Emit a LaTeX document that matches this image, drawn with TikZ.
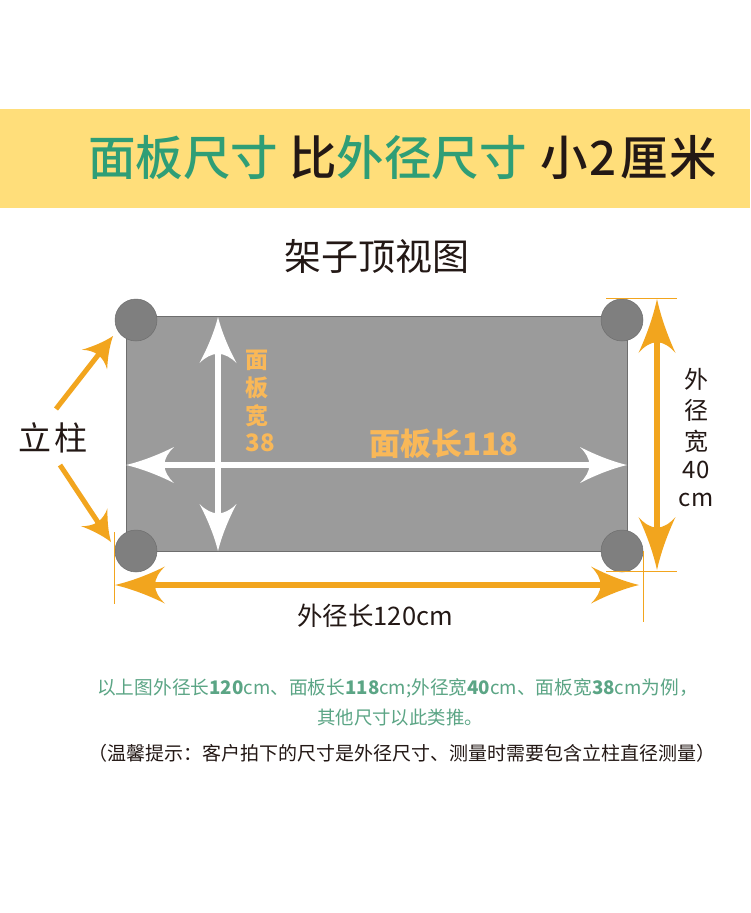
\documentclass[tikz,border=0pt]{standalone}
\usetikzlibrary{calc}
\usepackage{fontspec}
\setmainfont{Noto Sans CJK SC}
\newfontfamily\medfont{Noto Sans CJK SC Medium}
\definecolor{bandc}{HTML}{FFDE7A}
\definecolor{titleg}{HTML}{2F9E76}
\definecolor{inkc}{HTML}{231815}
\definecolor{panelc}{HTML}{9B9B9B}
\definecolor{postc}{HTML}{7F7F7F}
\definecolor{edgec}{HTML}{6E6E6E}
\definecolor{orangec}{HTML}{F2A51E}
\definecolor{labelc}{HTML}{F9B858}
\definecolor{noteg}{HTML}{5BA585}
\tikzset{
  x=1pt,y=-1pt,
  txt/.style={inner sep=0pt,outer sep=0pt,text=inkc},
  post/.style={circle,draw=edgec,line width=0.5pt,fill=postc,minimum size=42pt,inner sep=0pt},
  stemw/.style={draw=white,line width=5.5pt},
  stemo/.style={draw=orangec,line width=6pt},
  thin/.style={draw=orangec,line width=0.7pt},
  pics/chead/.style n args={3}{code={
    \fill[#3] (0,0) .. controls (-0.35*#1,0.22*#2) and (-0.7*#1,0.6*#2) .. (-#1,#2)
      .. controls (-0.88*#1,0.7*#2) and (-0.8*#1,0.35*#2) .. (-0.8*#1,0)
      .. controls (-0.8*#1,-0.35*#2) and (-0.88*#1,-0.7*#2) .. (-#1,-#2)
      .. controls (-0.7*#1,-0.6*#2) and (-0.35*#1,-0.22*#2) .. cycle;
  }}
}
\begin{document}
\begin{tikzpicture}
\useasboundingbox (0,0) rectangle (750,913);
\fill[white] (0,0) rectangle (750,913);
\fill[bandc] (0,109) rectangle (750,208);
% title
\node[txt,anchor=west] (title) at (88,158) {\fontsize{47.5}{47.5}\selectfont\medfont\textcolor{titleg}{面板尺寸}\hspace{11pt}\textcolor{inkc}{比}\textcolor{titleg}{外径尺寸}\hspace{14pt}\textcolor{inkc}{小\hspace{2pt}2\hspace{3pt}厘\hspace{2pt}米}};
\node[txt] (sub) at (377,256) {\fontsize{37}{37}\selectfont 架子顶视图};
% panel
\node[draw=edgec,line width=0.7pt,fill=panelc,minimum width=501pt,minimum height=235pt,inner sep=0pt,outer sep=0pt,anchor=north west] (panel) at (126,316) {};
\node[post] (p1) at (136,320) {};
\node[post] (p2) at (622,320) {};
\node[post] (p3) at (136,551) {};
\node[post] (p4) at (622,551) {};
% coordinates
\coordinate (wt) at (218,317);
\coordinate (wb) at (218,551);
\coordinate (wl) at (126,465);
\coordinate (wr) at (627,465);
\coordinate (ol) at (115,585);
\coordinate (or) at (639,585);
\coordinate (ot) at (657,299);
\coordinate (ob) at (657,570);
\coordinate (d1s) at (56,409);
\coordinate (d1e) at (113,336);
\coordinate (d2s) at (60,465);
\coordinate (d2e) at (111,542);
\coordinate (tl1) at (606,298);
\coordinate (tl2) at (677,298);
\coordinate (tl3) at (606,571);
\coordinate (tl4) at (677,571);
\coordinate (tl5) at (643.5,551);
\coordinate (tl6) at (643.5,622);
\coordinate (tl7) at (114.5,532);
\coordinate (tl8) at (114.5,604);
% thin guides
\draw[thin] (tl1) -- (tl2);
\draw[thin] (tl3) -- (tl4);
\draw[thin] (tl5) -- (tl6);
\draw[thin] (tl7) -- (tl8);
% white arrows
\draw[stemw] ($(wl)+(30,0)$) -- ($(wr)+(-30,0)$);
\draw[stemw] ($(wt)+(0,30)$) -- ($(wb)+(0,-30)$);
\pic[rotate=90] at (wt) {chead={46}{18.5}{white}};
\pic[rotate=-90] at (wb) {chead={47}{18.5}{white}};
\pic[rotate=180] at (wl) {chead={48}{18}{white}};
\pic at (wr) {chead={47}{18}{white}};
% orange arrows
\draw[stemo] ($(ol)+(30,0)$) -- ($(or)+(-30,0)$);
\draw[stemo] ($(ot)+(0,30)$) -- ($(ob)+(0,-30)$);
\pic[rotate=180] at (ol) {chead={50}{18.5}{orangec}};
\pic at (or) {chead={48}{18.5}{orangec}};
\pic[rotate=90] at (ot) {chead={54}{18.5}{orangec}};
\pic[rotate=-90] at (ob) {chead={53}{18.5}{orangec}};
\draw[draw=orangec,line width=5pt] (d1s) -- ($(d1s)!0.8!(d1e)$);
\draw[draw=orangec,line width=5pt] (d2s) -- ($(d2s)!0.8!(d2e)$);
\pic[rotate=52] at (d1e) {chead={30}{16}{orangec}};
\pic[rotate=-56] at (d2e) {chead={30}{16}{orangec}};
% labels
\node[txt] (lz) at (53,438) {\fontsize{33}{33}\selectfont 立\hspace{3pt}柱};
\node[txt,text=labelc] (l1) at (257,360) {\fontsize{23}{23}\selectfont\bfseries 面};
\node[txt,text=labelc] (l2) at (257,388) {\fontsize{23}{23}\selectfont\bfseries 板};
\node[txt,text=labelc] (l3) at (257,416) {\fontsize{23}{23}\selectfont\bfseries 宽};
\node[txt,text=labelc] (l4) at (260,443) {\fontsize{24}{24}\selectfont\bfseries 38};
\node[txt,text=labelc] (l5) at (444,444) {\fontsize{31}{31}\selectfont\bfseries 面板长118};
\node[txt] (r1) at (696,379) {\fontsize{24}{24}\selectfont 外};
\node[txt] (r2) at (696,410) {\fontsize{24}{24}\selectfont 径};
\node[txt] (r3) at (696,441) {\fontsize{24}{24}\selectfont 宽};
\node[txt] (r4) at (696,470) {\fontsize{24}{24}\selectfont 40};
\node[txt] (r5) at (696,500) {\fontsize{24}{24}\selectfont cm};
\node[txt] (bl) at (375,616) {\fontsize{25.5}{25.5}\selectfont 外径长120cm};
\node[txt,text=noteg] (n1) at (397.5,688) {\fontsize{18.7}{18.7}\selectfont 以上图外径长{\bfseries 120}cm、面板长{\bfseries 118}cm;外径宽{\bfseries 40}cm、面板宽{\bfseries 38}cm为例，};
\node[txt,text=noteg] (n2) at (400,718) {\fontsize{18.4}{18.4}\selectfont 其他尺寸以此类推。};
\node[txt] (n3) at (402,753) {\fontsize{19}{19}\selectfont （温馨提示：客户拍下的尺寸是外径尺寸、测量时需要包含立柱直径测量）};
\end{tikzpicture}
\end{document}
